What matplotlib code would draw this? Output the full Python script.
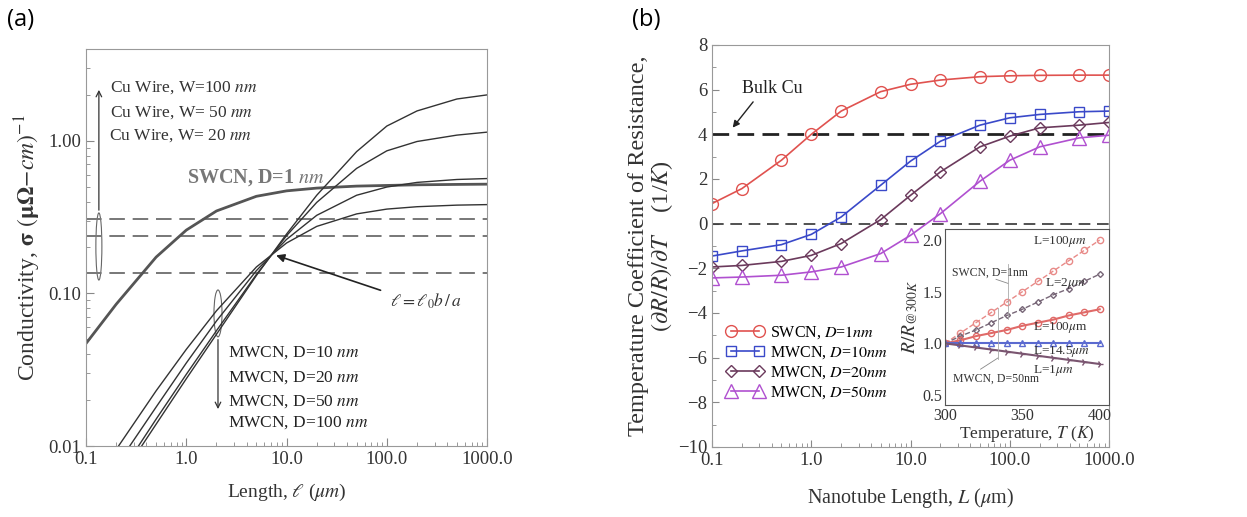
import matplotlib.pyplot as plt
from matplotlib.patches import Ellipse
from matplotlib.ticker import FixedLocator, NullFormatter, LogLocator

plt.rcParams['font.family'] = ['Liberation Serif', 'DejaVu Serif']
plt.rcParams['mathtext.fontset'] = 'stix'

# ---- panel (a): conductivity vs length ----
length = [0.1, 0.2, 0.5, 1, 2, 5, 10, 20, 50, 100, 200, 500, 1000]
swcn_d1 = [0.047, 0.085, 0.173, 0.26, 0.347, 0.433, 0.47, 0.49, 0.505, 0.51, 0.515, 0.518, 0.52]
mwcn_d10 = [0.0048, 0.0095, 0.023, 0.043, 0.077, 0.149, 0.214, 0.275, 0.332, 0.357, 0.370, 0.379, 0.382]
mwcn_d20 = [0.0037, 0.0074, 0.018, 0.035, 0.066, 0.141, 0.226, 0.325, 0.440, 0.498, 0.534, 0.558, 0.566]
mwcn_d50 = [0.0030, 0.0060, 0.015, 0.0295, 0.057, 0.133, 0.239, 0.395, 0.66, 0.86, 0.99, 1.09, 1.14]
mwcn_d100 = [0.0028, 0.0056, 0.0139, 0.0276, 0.054, 0.131, 0.245, 0.44, 0.85, 1.25, 1.57, 1.88, 2.0]
cu_wire = [0.307, 0.238, 0.137]   # W=100, 50, 20 nm

# ---- panel (b): TCR vs nanotube length ----
tube_len = [0.1, 0.2, 0.5, 1, 2, 5, 10, 20, 50, 100, 200, 500, 1000]
tcr_swcn1 = [0.90, 1.57, 2.84, 4.0, 5.04, 5.91, 6.24, 6.43, 6.58, 6.62, 6.64, 6.65, 6.65]
tcr_mwcn10 = [-1.45, -1.22, -0.94, -0.48, 0.30, 1.72, 2.80, 3.69, 4.41, 4.74, 4.89, 5.01, 5.04]
tcr_mwcn20 = [-1.94, -1.87, -1.69, -1.42, -0.89, 0.18, 1.27, 2.32, 3.44, 3.92, 4.29, 4.41, 4.53]
tcr_mwcn50 = [-2.43, -2.39, -2.31, -2.16, -1.94, -1.34, -0.52, 0.45, 1.90, 2.84, 3.44, 3.84, 3.96]
bulk_cu = 4.0

# ---- inset: R/R(300K) vs temperature ----
temp = [300, 310, 320, 330, 340, 350, 360, 370, 380, 390, 400]
r_swcn_100 = [1.0, 1.1, 1.2, 1.3, 1.4, 1.5, 1.6, 1.7, 1.8, 1.9, 2.0]
r_2um = [1.0, 1.07, 1.13, 1.2, 1.27, 1.33, 1.4, 1.47, 1.53, 1.6, 1.67]
r_100um = [1.0, 1.03, 1.07, 1.1, 1.13, 1.17, 1.2, 1.23, 1.27, 1.3, 1.33]
r_14um = [1.0, 1.0, 1.0, 1.0, 1.0, 1.0, 1.0, 1.0, 1.0, 1.0, 1.0]
r_1um = [1.0, 0.98, 0.96, 0.94, 0.92, 0.9, 0.88, 0.86, 0.84, 0.82, 0.80]

fig = plt.figure(figsize=(12.47, 5.17), dpi=100)
fig.text(0.006, 0.961, '(a)', fontsize=17, family='Open Sans', va='center')
fig.text(0.507, 0.961, '(b)', fontsize=17, family='Open Sans', va='center')

xt = [0.1, 1, 10, 100, 1000]
xtl = ['0.1', '1.0', '10.0', '100.0', '1000.0']

# ================= (a) =================
ax = fig.add_axes([0.069, 0.1373, 0.3216, 0.768])
ax.set_xscale('log')
ax.set_yscale('log')
ax.set_xlim(0.1, 1000)
ax.set_ylim(0.01, 4.0)

for lev in cu_wire:
    ax.axhline(lev, color='#777777', lw=1.4, dashes=(8, 4))
ax.plot(length, swcn_d1, color='#555555', lw=2.0)
for ys in [mwcn_d10, mwcn_d20, mwcn_d50, mwcn_d100]:
    ax.plot(length, ys, color='#333333', lw=1.0)

ax.set_xticks(xt)
ax.set_xticklabels(xtl)
ax.set_yticks([0.01, 0.1, 1.0])
ax.set_yticklabels(['0.01', '0.10', '1.00'])
ax.xaxis.set_minor_locator(LogLocator(base=10, subs=range(2, 10)))
ax.yaxis.set_minor_locator(LogLocator(base=10, subs=range(2, 10)))
ax.xaxis.set_minor_formatter(NullFormatter())
ax.yaxis.set_minor_formatter(NullFormatter())
ax.tick_params(which='both', direction='in', color='#888888', labelsize=13.5, labelcolor='#333333')
ax.tick_params(which='major', length=6)
ax.tick_params(which='minor', length=3)
for s in ax.spines.values():
    s.set_color('#999999')

ax.set_xlabel(r'Length, $\ell$ ($\mu m$)', fontsize=14, color='#333333', labelpad=10)
ax.set_ylabel(r'Conductivity, $\mathbf{\sigma}$ $(\mathbf{\mu\Omega}$$-\mathit{cm})^{-1}$',
              fontsize=17, color='#333333', labelpad=4)

fs_a = 12.5
ax.text(0.06, 0.902, r'Cu Wire, W=100 $\mathit{nm}$', transform=ax.transAxes, fontsize=fs_a, va='center', color='#333333')
ax.text(0.06, 0.839, r'Cu Wire, W= 50 $\mathit{nm}$', transform=ax.transAxes, fontsize=fs_a, va='center', color='#333333')
ax.text(0.057, 0.781, r'Cu Wire, W= 20 $\mathit{nm}$', transform=ax.transAxes, fontsize=fs_a, va='center', color='#333333')
ax.text(0.252, 0.675, r'SWCN, D=1 $\mathit{nm}$', transform=ax.transAxes, fontsize=14.5,
        fontweight='bold', va='center', color='#777777')
mw_y = [0.234, 0.171, 0.111, 0.058]
mw_lab = [r'MWCN, D=10 $\mathit{nm}$', r'MWCN, D=20 $\mathit{nm}$',
          r'MWCN, D=50 $\mathit{nm}$', r'MWCN, D=100 $\mathit{nm}$']
for yy, lab in zip(mw_y, mw_lab):
    ax.text(0.354, yy, lab, transform=ax.transAxes, fontsize=fs_a, va='center', color='#222222')

ax.add_patch(Ellipse((0.032, 0.5025), 0.015, 0.169, transform=ax.transAxes, fill=False, ec='#666666', lw=0.8))
ax.add_patch(Ellipse((0.329, 0.334), 0.02, 0.118, transform=ax.transAxes, fill=False, ec='#666666', lw=0.8))
ax.annotate('', xy=(0.032, 0.904), xytext=(0.032, 0.587), xycoords='axes fraction',
            arrowprops=dict(arrowstyle='->', color='#333333', lw=0.9))
ax.annotate('', xy=(0.329, 0.086), xytext=(0.329, 0.275), xycoords='axes fraction',
            arrowprops=dict(arrowstyle='->', color='#333333', lw=0.9))
ax.annotate('', xy=(7.4, 0.18), xycoords='data', xytext=(0.741, 0.39), textcoords='axes fraction',
            arrowprops=dict(arrowstyle='-|>', color='#222222', lw=1.2, mutation_scale=12))
ax.text(0.758, 0.365, r'$\ell = \ell_0 b\,/\,a$', transform=ax.transAxes, fontsize=12.5, va='center', color='#333333')

# ================= (b) =================
bx = fig.add_axes([0.571, 0.1354, 0.3184, 0.7776])
bx.set_xscale('log')
bx.set_xlim(0.1, 1000)
bx.set_ylim(-10, 8)

bx.axhline(bulk_cu, color='#222222', lw=2.0, dashes=(6, 3))
bx.axhline(0, color='#333333', lw=1.2, dashes=(7, 4))

c_sw = '#e0524f'
c_10 = '#3a49c9'
c_20 = '#6b3a5c'
c_50 = '#b050d0'
ms = 8.5
bx.plot(tube_len, tcr_swcn1, color=c_sw, lw=1.2, marker='o', ms=ms, mfc='none', mec=c_sw, mew=1.0,
        label=r'SWCN, $D$=$1nm$')
bx.plot(tube_len, tcr_mwcn10, color=c_10, lw=1.2, marker='s', ms=ms - 1, mfc='none', mec=c_10, mew=1.0,
        label=r'MWCN, $D$=$10nm$')
bx.plot(tube_len, tcr_mwcn20, color=c_20, lw=1.2, marker='D', ms=ms - 2, mfc='none', mec=c_20, mew=1.0,
        label=r'MWCN, $D$=$20nm$')
bx.plot(tube_len, tcr_mwcn50, color=c_50, lw=1.2, marker='^', ms=ms + 1, mfc='none', mec=c_50, mew=1.0,
        label=r'MWCN, $D$=$50nm$')

bx.set_xticks(xt)
bx.set_xticklabels(xtl)
bx.xaxis.set_minor_locator(LogLocator(base=10, subs=range(2, 10)))
bx.xaxis.set_minor_formatter(NullFormatter())
bx.set_yticks(list(range(-10, 9, 2)))
bx.yaxis.set_minor_locator(FixedLocator(list(range(-9, 8, 2))))
bx.tick_params(which='both', direction='in', color='#888888', labelsize=13.5, labelcolor='#333333')
bx.tick_params(which='major', length=5)
bx.tick_params(which='minor', length=3)
for s in bx.spines.values():
    s.set_color('#999999')

bx.set_xlabel(r'Nanotube Length, $L$ ($\mu$m)', fontsize=14.5, color='#333333', labelpad=12)
bx.set_ylabel('Temperature Coefficient of Resistance,\n' + r'$(\partial R/R)/\partial T$    (1/$K$)',
              fontsize=17.5, color='#333333', labelpad=2, linespacing=1.0)

bx.annotate('', xy=(0.155, 4.2), xytext=(0.27, 5.55),
            arrowprops=dict(arrowstyle='-|>', color='#222222', lw=1.0, mutation_scale=10))
bx.text(0.2, 6.06, 'Bulk Cu', fontsize=13, va='center', color='#222222')

leg = bx.legend(loc='upper left', bbox_to_anchor=(0.035, 0.305), frameon=False, numpoints=2,
                handlelength=2.4, handletextpad=0.35, labelspacing=0.2, fontsize=11.5,
                borderaxespad=0, borderpad=0)

# ---- inset ----
ix = fig.add_axes([0.7578, 0.2166, 0.1315, 0.3404])
ix.set_xlim(300, 406)
ix.set_ylim(0.403, 2.107)
ix.plot(temp, r_swcn_100, color='#e88a88', lw=1.0, ls='--', marker='o', ms=4.5, mfc='none', mec='#e88a88')
ix.plot(temp, r_2um, color='#776677', lw=1.0, ls='--', marker='D', ms=3, mfc='none', mec='#776677')
ix.plot(temp, r_100um, color='#e06a68', lw=1.5, marker='o', ms=4.5, mfc='none', mec='#e06a68')
ix.plot(temp, r_14um, color='#5b6ad0', lw=1.5, marker='^', ms=4, mfc='none', mec='#5b6ad0')
ix.plot(temp, r_1um, color='#7a5570', lw=1.5, marker='4', ms=5, mec='#7a5570')
ix.set_xticks([300, 350, 400])
ix.set_yticks([0.5, 1.0, 1.5, 2.0])
ix.set_yticklabels(['0.5', '1.0', '1.5', '2.0'])
ix.tick_params(direction='in', length=0, labelsize=11.5, labelcolor='#333333', pad=2)
for s in ix.spines.values():
    s.set_color('#555555')
ix.set_xlabel(r'Temperature, $T$ ($K$)', fontsize=12.5, color='#333333', labelpad=0)
ix.set_ylabel(r'$R/R_{@300K}$', fontsize=14, color='#333333', labelpad=2)

fi = 9.5
ix.text(356.8, 1.99, r'L=100$\mu m$', fontsize=fi, va='center', color='#333333')
ix.text(304.5, 1.68, 'SWCN, D=1nm', fontsize=8.5, va='center', color='#333333')
ix.text(364.5, 1.58, r'L=2$\mu m$', fontsize=fi, va='center', color='#333333')
ix.text(356.8, 1.15, r'L=100$\mu$m', fontsize=fi, va='center', color='#333333')
ix.text(356.8, 0.92, r'L=14.5$\mu m$', fontsize=fi, va='center', color='#333333')
ix.text(356.8, 0.74, r'L=1$\mu m$', fontsize=fi, va='center', color='#333333')
ix.text(305, 0.66, 'MWCN, D=50nm', fontsize=8.5, va='center', color='#333333')
ix.plot([333, 340.9], [1.62, 1.58], color='#888888', lw=0.6)
ix.plot([340.9, 340.9], [1.77, 1.24], color='#aaaaaa', lw=0.6)
ix.plot([323, 334.4], [0.75, 0.86], color='#888888', lw=0.6)
ix.plot([334.4, 334.4], [1.34, 0.85], color='#aaaaaa', lw=0.6)

fig.savefig('out.png', dpi=100)
